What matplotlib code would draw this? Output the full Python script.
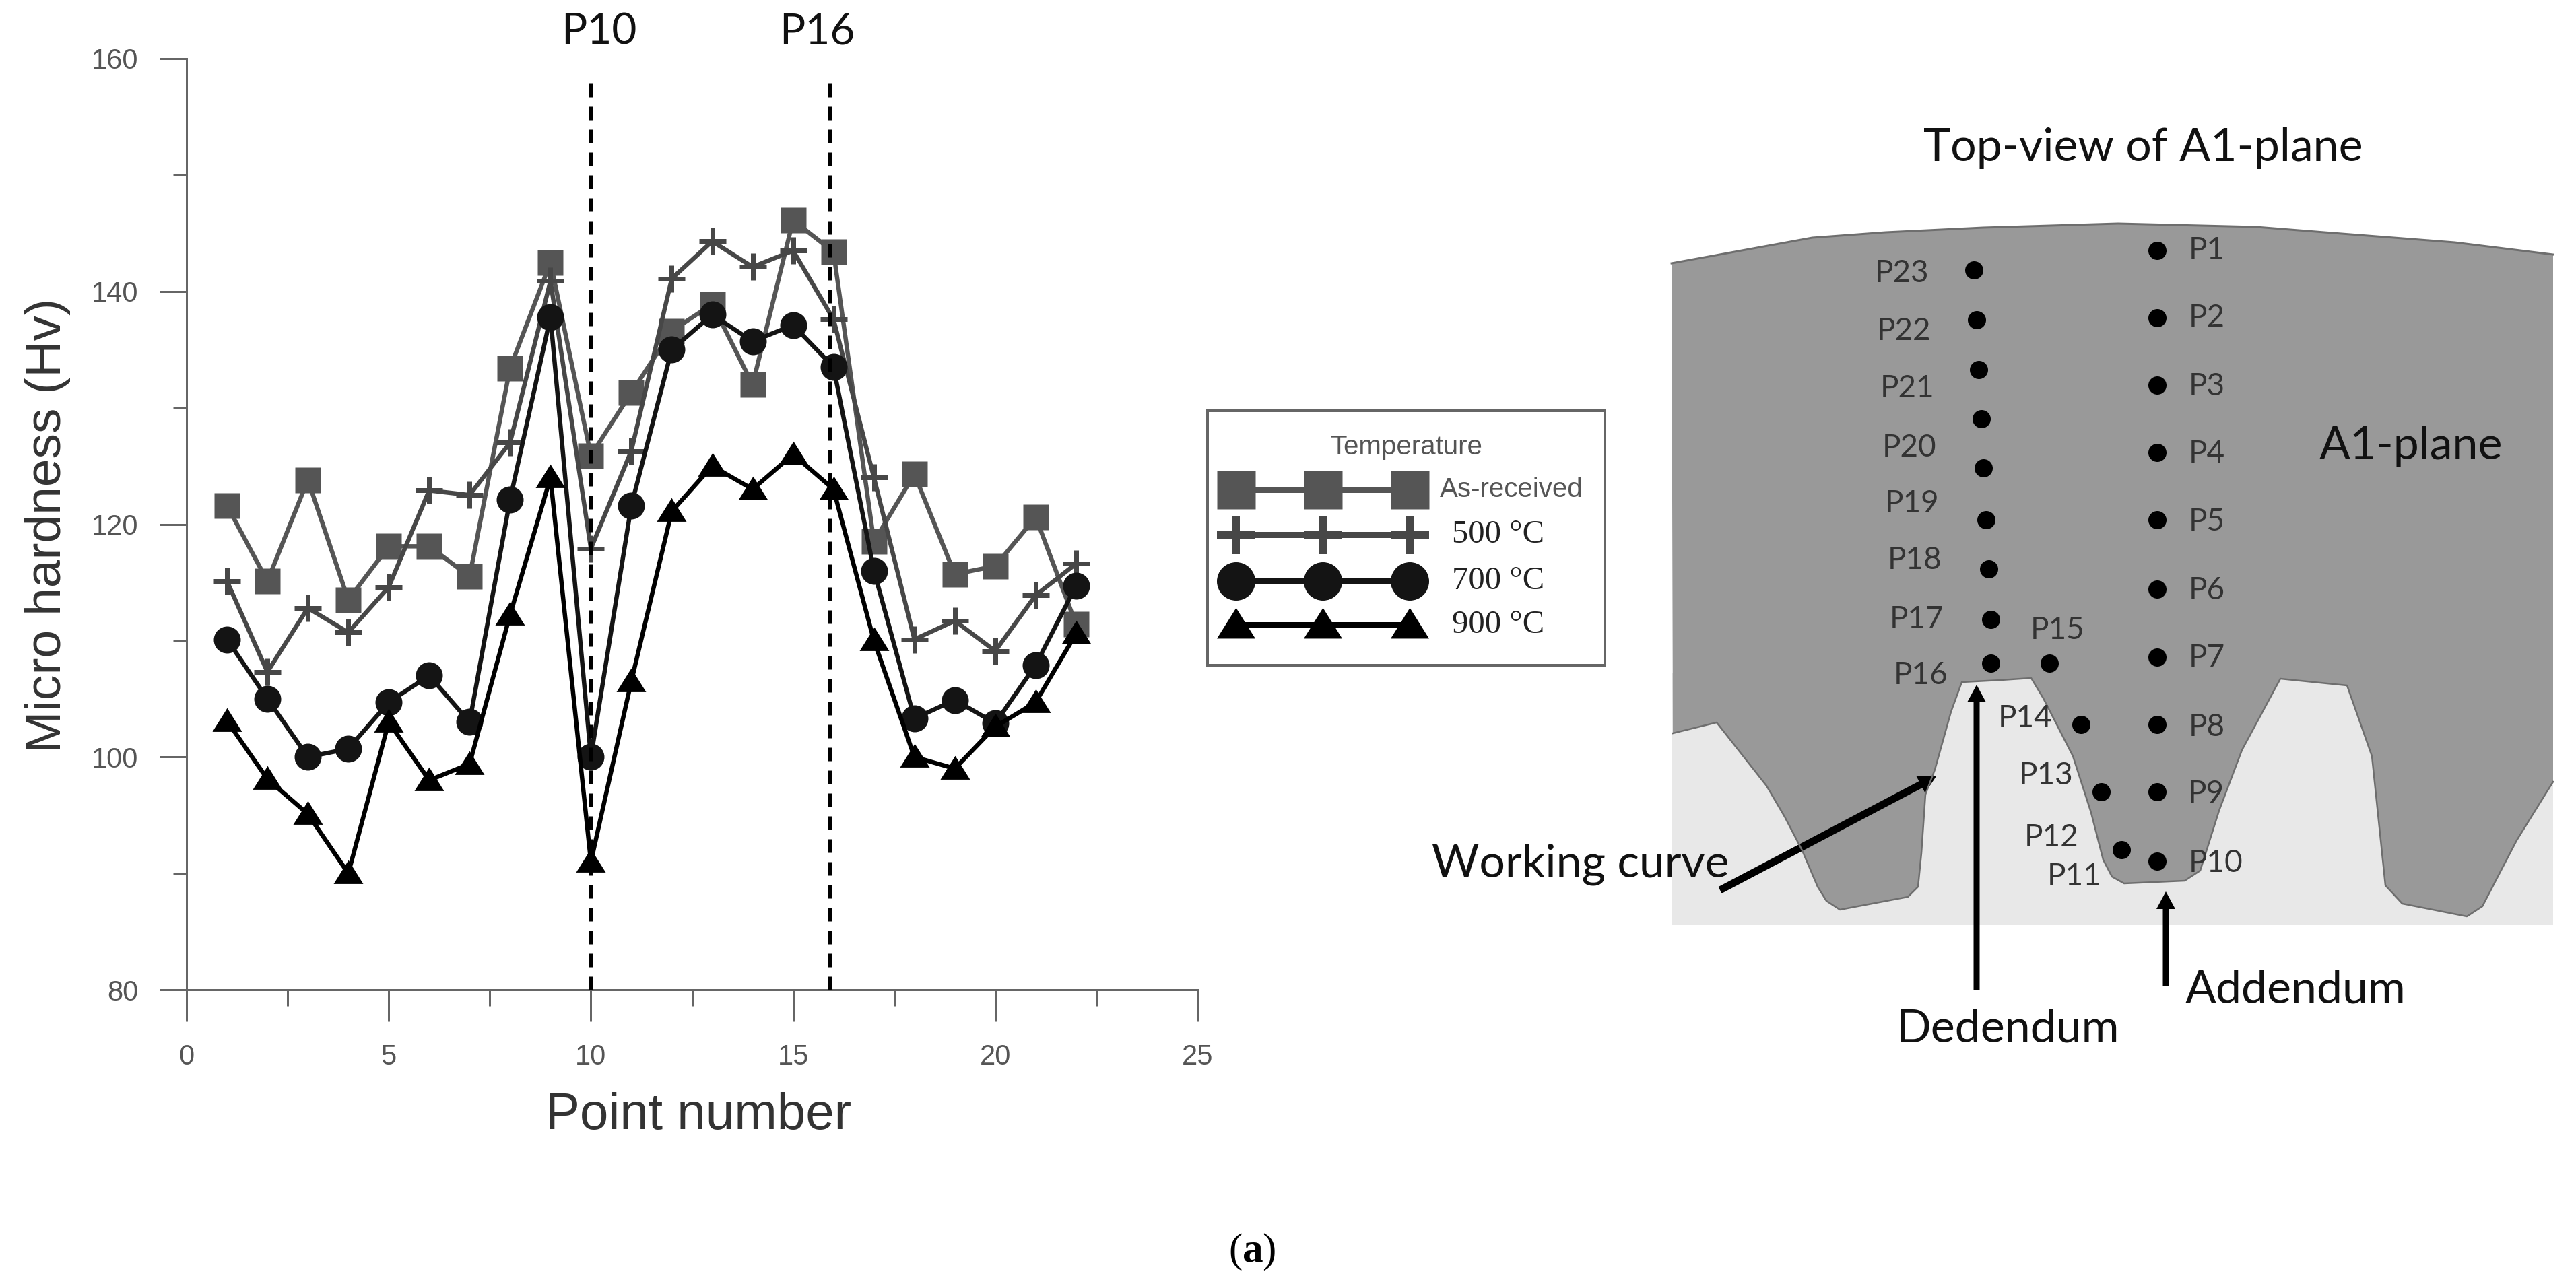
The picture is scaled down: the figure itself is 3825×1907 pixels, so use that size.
import matplotlib; matplotlib.use('Agg')
import matplotlib.pyplot as plt
import numpy as np

plt.rcParams['font.family'] = ['Liberation Sans', 'DejaVu Sans']
plt.rcParams['mathtext.fontset'] = 'custom'
plt.rcParams['mathtext.rm'] = 'Liberation Serif'
plt.rcParams['mathtext.bf'] = 'Liberation Serif:bold'

# =============================================================================
# DATA
# =============================================================================

points = list(range(1, 23))
as_received = [121.6, 115.1, 123.8, 113.5, 118.1, 118.1, 115.5, 133.4, 142.5, 125.9, 131.3,
               136.6, 138.9, 132.0, 146.1, 143.4, 118.5, 124.3, 115.7, 116.4, 120.6, 111.4]
t500 = [115.1, 107.3, 112.8, 110.7, 114.6, 122.9, 122.5, 127.0, 140.9, 117.9, 126.3,
        141.1, 144.3, 142.1, 143.5, 137.6, 124.0, 110.1, 111.7, 109.1, 113.9, 116.6]
t700 = [110.1, 105.0, 100.0, 100.7, 104.7, 107.0, 103.0, 122.1, 137.8, 100.0, 121.6,
        135.0, 138.0, 135.7, 137.1, 133.5, 116.0, 103.3, 104.9, 102.9, 107.9, 114.7]
t900 = [103.1, 98.1, 95.1, 90.0, 103.0, 98.0, 99.4, 112.2, 124.0, 91.0, 106.5,
        121.1, 125.0, 123.0, 126.0, 123.0, 110.0, 100.0, 99.0, 102.6, 104.7, 110.6]

legend_title = 'Temperature'
legend_labels = ['As-received', '500 °C', '700 °C', '900 °C']
marked_points = [10, 15.9]
marked_names = ['P10', 'P16']
marked_text_x = [10.2, 15.6]

# Gear diagram, in pixels of the figure
arc_x = [2482, 2691, 2800, 2945, 3145, 3350, 3464, 3645, 3791]
arc_y = [391, 353, 345, 338, 332, 337, 346, 360, 378]
profile_x = [2484, 2549, 2623, 2650, 2676, 2699, 2712, 2732, 2833, 2848, 2853, 2859, 2873, 2897, 2913, 2971, 3016,
             3034, 3078, 3105, 3123, 3136, 3154, 3244, 3267, 3295, 3329, 3386, 3485, 3522, 3542, 3567, 3663,
             3686, 3737, 3791]
profile_y = [1089, 1073, 1167, 1213, 1263, 1317, 1338, 1351, 1332, 1317, 1267, 1180, 1143, 1057, 1013, 1010, 1007,
             1037, 1123, 1207, 1277, 1302, 1312, 1308, 1293, 1204, 1114, 1008, 1018, 1123, 1315, 1342, 1361,
             1346, 1248, 1161]
dot_x = [3203]*10 + [3150, 3120, 3090, 3043, 2956, 2956, 2953, 2949, 2945, 2942, 2938, 2935, 2931]
dot_y = [372, 472, 572, 672, 772, 875, 976, 1076, 1176, 1279,
         1262, 1176, 1076, 985, 985, 920, 845, 772, 695, 622, 549, 475, 401]
label_x = [3277]*8 + [3276, 3290, 3080, 3046, 3038, 3007, 3055, 2852, 2846, 2843, 2839, 2835, 2832, 2827, 2824]
label_y = [372, 472, 574, 674, 775, 877, 977, 1080, 1179, 1282,
           1302, 1244, 1152, 1067, 936, 1003, 920, 832, 748, 665, 577, 492, 406]

# =============================================================================
# FIGURE
# =============================================================================

W, H = 3825, 1907
PX = 0.72   # points per pixel at dpi=100
lato = ['Lato', 'DejaVu Sans']
serif = ['Liberation Serif', 'DejaVu Serif']
fig = plt.figure(figsize=(W/100, H/100), dpi=100)
ax = fig.add_axes([277/W, 1-1470/H, (1778-277)/W, (1470-87)/H])

tri = [(-1, -0.7), (1, -0.7), (0, 0.9)]
styles = [dict(marker='s', ms=38*PX, color='#555555', mec='none'),
          dict(marker='+', ms=40*PX, color='#474747', mew=7*PX),
          dict(marker='o', ms=40*PX, color='#141414', mec='none'),
          dict(marker=tri, ms=44*PX, color='#000000', mec='none')]
for ys, st in zip([as_received, t500, t700, t900], styles):
    ax.plot(points, ys, lw=6.5*PX, clip_on=False, **st)

for xm, xt, name in zip(marked_points, marked_text_x, marked_names):
    ax.plot([xm, xm], [80, 158.6], color='black', lw=5*PX, dashes=(4, 2.8), zorder=6, clip_on=False)
    ax.text(xt, 162.3, name, family=lato, fontsize=46, ha='center', va='center', color='#111111')

ax.set_xlim(0, 25); ax.set_ylim(80, 160)
ax.set_xticks(np.arange(0, 26, 5)); ax.set_yticks(np.arange(80, 161, 20))
ax.set_xticks(np.arange(2.5, 25, 5), minor=True); ax.set_yticks(np.arange(90, 160, 20), minor=True)
for s in ['top', 'right']:
    ax.spines[s].set_visible(False)
for s in ['left', 'bottom']:
    ax.spines[s].set_color('#666666'); ax.spines[s].set_linewidth(3*PX)
ax.tick_params(axis='x', which='major', length=47*PX, width=3*PX, color='#666666',
               labelsize=30, labelcolor='#555555', pad=24)
ax.tick_params(axis='y', which='major', length=40*PX, width=3*PX, color='#666666',
               labelsize=30, labelcolor='#555555', pad=23)
ax.tick_params(axis='x', which='minor', length=24*PX, width=3*PX, color='#666666')
ax.tick_params(axis='y', which='minor', length=20*PX, width=3*PX, color='#666666')
ax.patch.set_visible(False)

# Overlay in figure pixels: axis titles, legend, gear diagram
ov = fig.add_axes([0, 0, 1, 1], zorder=5)
ov.set_xlim(0, W); ov.set_ylim(H, 0); ov.axis('off')

ov.text(71, 780, 'Micro hardness (Hv)', rotation=90, fontsize=54, ha='center', va='center', color='#333333')
ov.text(1037, 1657, 'Point number', fontsize=55, ha='center', va='center', color='#333333')
ov.text(1859, 1859, r'($\mathbf{a}$)', fontsize=44, ha='center', va='center', family=serif, color='black')

# Legend
ov.add_patch(plt.Rectangle((1793, 610), 590, 378, fc='white', ec='#666666', lw=4*PX))
ov.text(2088, 664, legend_title, fontsize=29, ha='center', va='center', color='#555555')
legend_y = [727, 794, 863, 928]
legend_text_x = [2244, 2225, 2225, 2225]
for i, st in enumerate(styles):
    st2 = dict(st); st2['ms'] = 57*PX
    if st2['marker'] == '+':
        st2['mew'] = 12*PX
    ov.plot([1835, 1964, 2093], [legend_y[i]]*3, lw=9*PX, **st2)
    if i == 0:
        ov.text(legend_text_x[i], legend_y[i], legend_labels[i], fontsize=29, ha='center', va='center',
                color='#555555')
    else:
        ov.text(legend_text_x[i], legend_y[i], legend_labels[i], fontsize=35, ha='center', va='center',
                family=serif, color='#222222')

# Gear
ov.add_patch(plt.Rectangle((2482, 1000), 3791-2482, 374, fc='#e8e8e8', ec='none'))
ov.fill(arc_x + profile_x[::-1], arc_y + profile_y[::-1], fc='#999999', ec='none')
ov.plot(arc_x, arc_y, color='#6e6e6e', lw=3*PX)
ov.plot(profile_x, profile_y, color='#6e6e6e', lw=2.5*PX)
ov.plot(dot_x, dot_y, 'o', color='black', ms=27*PX, mec='none', ls='none')
for i, (lx, ly) in enumerate(zip(label_x, label_y)):
    ov.text(lx, ly, f'P{i+1}', family=lato, fontsize=33, ha='center', va='center', color='#333333')

ov.text(3182, 220, 'Top-view of A1-plane', family=lato, fontsize=49, ha='center', va='center', color='#111111')
ov.text(3580, 663, 'A1-plane', family=lato, fontsize=49, ha='center', va='center', color='#111111')
ov.text(2347, 1284, 'Working curve', family=lato, fontsize=49, ha='center', va='center', color='#111111')
ov.text(2981, 1529, 'Dedendum', family=lato, fontsize=49, ha='center', va='center', color='#111111')
ov.text(3409, 1470, 'Addendum', family=lato, fontsize=49, ha='center', va='center', color='#111111')

for (x0, y0, x1, y1, w) in [(2554, 1322, 2875, 1153, 11), (2935, 1470, 2935, 1017, 9), (3216, 1465, 3216, 1324, 9)]:
    ov.arrow(x0, y0, x1-x0, y1-y0, width=w, head_width=28, head_length=26, length_includes_head=True,
             fc='black', ec='none')

plt.savefig('out.png', dpi=100)
